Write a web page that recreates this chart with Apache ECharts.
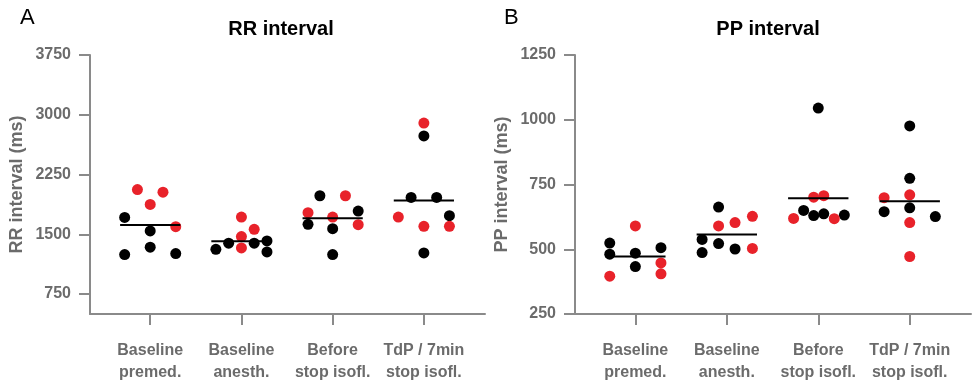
<!DOCTYPE html>
<html>
<head>
<meta charset="utf-8">
<script src="https://cdn.jsdelivr.net/npm/echarts@6/dist/echarts.min.js"></script>
<style>
	html, body { margin: 0; padding: 0; background: #fff; }
	#chart { width: 972px; height: 384px; }
</style>
</head>
<body>
<div id="chart"></div>
<script>
// 类别
const categories = ["Baseline\npremed.", "Baseline\nanesth.", "Before\nstop isofl.", "TdP / 7min\nstop isofl."];

// 点数据: [类别序号, 水平偏移, 数值]
const rrBlack = [
	[0, -0.28, 1712], [0, 0, 1542], [0, 0, 1338], [0, -0.28, 1246], [0, 0.28, 1258],
	[1, -0.14, 1388], [1, 0.14, 1388], [1, 0.28, 1417], [1, -0.28, 1312], [1, 0.28, 1279],
	[2, -0.14, 1984], [2, 0.28, 1792], [2, -0.27, 1625], [2, 0, 1571], [2, 0, 1246],
	[3, 0, 2734], [3, -0.14, 1963], [3, 0.14, 1963], [3, 0.28, 1734], [3, 0, 1266]
];
const rrRed = [
	[0, -0.14, 2062], [0, 0.14, 2029], [0, 0, 1875], [0, 0.28, 1596],
	[1, 0, 1717], [1, 0.14, 1562], [1, 0, 1471], [1, 0, 1329],
	[2, 0.14, 1984], [2, -0.27, 1771], [2, 0, 1717], [2, 0.28, 1621],
	[3, 0, 2896], [3, -0.28, 1717], [3, 0, 1600], [3, 0.28, 1600]
];
const rrMedian = [1616, 1414, 1700, 1925];

const ppBlack = [
	[0, -0.28, 524], [0, -0.28, 481], [0, 0, 485], [0, 0.28, 506], [0, 0, 433],
	[1, -0.09, 663], [1, -0.27, 538], [1, -0.09, 522], [1, 0.09, 501], [1, -0.27, 487],
	[2, 0, 1045], [2, -0.16, 650], [2, -0.05, 630], [2, 0.06, 637], [2, 0.285, 632],
	[3, 0, 976], [3, 0, 774], [3, -0.28, 645], [3, 0, 660], [3, 0.28, 626]
];
const ppRed = [
	[0, 0, 590], [0, 0.28, 447], [0, 0.28, 405], [0, -0.28, 396],
	[1, 0.28, 627], [1, 0.09, 603], [1, -0.09, 590], [1, 0.28, 503],
	[2, -0.05, 701], [2, 0.06, 707], [2, -0.27, 619], [2, 0.175, 618],
	[3, -0.28, 699], [3, 0, 710], [3, 0, 603], [3, 0, 472]
];
const ppMedian = [472, 557, 697, 685];

const rrTicks = [750, 1500, 2250, 3000, 3750];
const ppTicks = [250, 500, 750, 1000, 1250];

const catPos = [1, 2, 3, 4];
const halfLine = 0.33;

const axisGray = "#8a8a8a";
const labelGray = "#6b6b6b";
const red = "#e8222a";

const toXY = pts => pts.map(p => [p[0] + 1 + p[1], p[2]]);

const medianSeries = (medians, idx) =>
	medians.map((m, i) => ({
		type: "line",
		xAxisIndex: idx,
		yAxisIndex: idx,
		symbol: "none",
		silent: true,
		lineStyle: { color: "#000", width: 2 },
		data: [[catPos[i] - halfLine, m], [catPos[i] + halfLine, m]],
		z: 3
	}));

const scatter = (pts, color, idx) => ({
	type: "scatter",
	xAxisIndex: idx,
	yAxisIndex: idx,
	symbolSize: 11,
	itemStyle: { color: color, opacity: 1 },
	data: toXY(pts),
	z: 2
});

const xAxis = idx => ({
	type: "value",
	gridIndex: idx,
	min: 0.34,
	max: 4.67,
	splitLine: { show: false },
	axisLine: { show: true, onZero: false, lineStyle: { color: axisGray, width: 2 } },
	axisTick: { show: true, length: 11, customValues: catPos, lineStyle: { color: axisGray, width: 2 } },
	axisLabel: {
		customValues: catPos,
		formatter: v => categories[Math.round(v) - 1] || "",
		color: labelGray,
		fontWeight: "bold",
		fontSize: 16,
		lineHeight: 22,
		margin: 26,
		fontFamily: "Liberation Sans, Arial"
	}
});

const yAxis = (idx, name, min, max, ticks) => ({
	type: "value",
	gridIndex: idx,
	min: min,
	max: max,
	name: name,
	nameLocation: "middle",
	nameGap: 64,
	nameTextStyle: { color: labelGray, fontWeight: "bold", fontSize: 18, fontFamily: "Liberation Sans, Arial" },
	splitLine: { show: false },
	axisLine: { show: true, onZero: false, lineStyle: { color: axisGray, width: 2 } },
	axisTick: { show: true, length: 11, customValues: ticks, lineStyle: { color: axisGray, width: 2 } },
	axisLabel: {
		customValues: ticks,
		formatter: v => String(v),
		color: labelGray,
		fontWeight: "bold",
		fontSize: 16,
		margin: 19,
		fontFamily: "Liberation Sans, Arial"
	}
});

const myChart = echarts.init(document.getElementById("chart"), null, { renderer: "canvas" });

const option = {
	animation: false,
	backgroundColor: "#fff",
	title: [
		{ text: "A", left: 15, top: 2, textStyle: { fontSize: 22, fontWeight: "normal", color: "#000", fontFamily: "Liberation Sans, Arial" } },
		{ text: "RR interval", left: 276, top: 14, textAlign: "center", textStyle: { fontSize: 20, fontWeight: "bold", color: "#000", fontFamily: "Liberation Sans, Arial" } },
		{ text: "B", left: 499, top: 2, textStyle: { fontSize: 22, fontWeight: "normal", color: "#000", fontFamily: "Liberation Sans, Arial" } },
		{ text: "PP interval", left: 763, top: 14, textAlign: "center", textStyle: { fontSize: 20, fontWeight: "bold", color: "#000", fontFamily: "Liberation Sans, Arial" } }
	],
	grid: [
		{ left: 90, top: 55, width: 395, height: 260 },
		{ left: 575, top: 55, width: 396, height: 260 }
	],
	xAxis: [xAxis(0), xAxis(1)],
	yAxis: [
		yAxis(0, "RR interval (ms)", 500, 3750, rrTicks),
		yAxis(1, "PP interval (ms)", 250, 1250, ppTicks)
	],
	series: [
		scatter(rrBlack, "#000", 0),
		scatter(rrRed, red, 0),
		...medianSeries(rrMedian, 0),
		scatter(ppBlack, "#000", 1),
		scatter(ppRed, red, 1),
		...medianSeries(ppMedian, 1)
	]
};

myChart.setOption(option);
</script>
</body>
</html>
